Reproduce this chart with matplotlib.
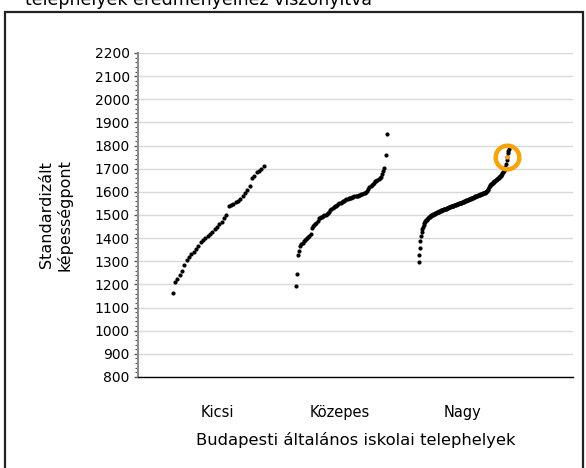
import numpy as np
import matplotlib
matplotlib.use('Agg')
import matplotlib.pyplot as plt
from matplotlib.patches import Rectangle
from matplotlib.ticker import MultipleLocator

plt.rcParams['font.family'] = ['DejaVu Sans']

TITLE = 'telephelyek eredményeihez viszonyítva'
CATEGORIES = ['Kicsi', 'Közepes', 'Nagy']
X_LABEL = 'Budapesti általános iskolai telephelyek'
Y_LABEL = 'Standardizált\nképességpont'

# sorted scores per school-size group
kicsi = [1165, 1212, 1222, 1240, 1258, 1283, 1305, 1318, 1330, 1342,
         1351, 1366, 1382, 1392, 1400, 1409, 1418, 1428, 1438, 1448,
         1460, 1471, 1486, 1500, 1538, 1545, 1549, 1556, 1561, 1570,
         1581, 1596, 1610, 1624, 1660, 1670, 1686, 1692, 1700, 1710]

kozepes = [1192, 1245, 1328, 1343, 1365, 1374, 1380, 1386, 1390, 1395,
           1400, 1405, 1411, 1418, 1445, 1452, 1456, 1460, 1466, 1476,
           1486, 1489, 1491, 1493, 1496, 1499, 1502, 1505, 1507, 1511,
           1520, 1528, 1532, 1536, 1539, 1541, 1544, 1548, 1551, 1554,
           1557, 1560, 1562, 1565, 1568, 1570, 1572, 1573, 1575, 1576,
           1578, 1580, 1581, 1583, 1584, 1586, 1588, 1590, 1592, 1594,
           1596, 1599, 1604, 1612, 1620, 1625, 1630, 1635, 1640, 1645,
           1648, 1652, 1655, 1658, 1665, 1679, 1690, 1705, 1758, 1851]

nagy = [1295, 1328, 1357, 1388, 1410, 1428, 1440, 1450, 1458, 1464,
        1469, 1473, 1477, 1480, 1483, 1486, 1488, 1491, 1493, 1495,
        1497, 1499, 1500, 1502, 1503, 1505, 1506, 1508, 1509, 1510,
        1512, 1513, 1514, 1515, 1516, 1517, 1518, 1520, 1521, 1522,
        1523, 1524, 1525, 1526, 1527, 1528, 1530, 1531, 1532, 1533,
        1534, 1535, 1536, 1537, 1538, 1539, 1540, 1541, 1542, 1543,
        1544, 1545, 1546, 1547, 1548, 1549, 1550, 1551, 1552, 1553,
        1554, 1555, 1556, 1557, 1558, 1560, 1561, 1562, 1563, 1564,
        1565, 1566, 1567, 1568, 1570, 1571, 1572, 1573, 1574, 1575,
        1576, 1578, 1579, 1580, 1581, 1582, 1583, 1585, 1586, 1587,
        1588, 1589, 1590, 1591, 1592, 1593, 1594, 1595, 1596, 1598,
        1599, 1601, 1604, 1608, 1614, 1620, 1626, 1629, 1632, 1634,
        1636, 1638, 1641, 1643, 1645, 1647, 1650, 1652, 1654, 1657,
        1659, 1661, 1664, 1667, 1670, 1674, 1678, 1682, 1686, 1690,
        1694, 1700, 1708, 1722, 1736, 1752, 1768, 1778, 1787, 1796]

HIGHLIGHT_GROUP = 2
HIGHLIGHT_INDEX = 145

groups = [kicsi, kozepes, nagy]
ORANGE = '#F7A30A'

fig = plt.figure(figsize=(5.86, 4.68), dpi=100)
ax = fig.add_axes([138 / 586, 1 - 377 / 468, 435 / 586, 324 / 468])

for g, vals in enumerate(groups):
    n = len(vals)
    xs = g + 1 - 0.36 + 0.74 * np.arange(n) / (n - 1)
    ax.scatter(xs, vals, s=9, color='black', linewidths=0, zorder=3)
    if g == HIGHLIGHT_GROUP:
        hx, hy = xs[HIGHLIGHT_INDEX], vals[HIGHLIGHT_INDEX]
        ax.plot([hx], [hy], 'o', ms=3, color=ORANGE, mew=0, zorder=4)
        ax.plot([hx], [hy], 'o', ms=17, mfc='none', mec=ORANGE, mew=3.2,
                zorder=5, clip_on=False)

ax.set_xlim(0.358, 3.895)
ax.set_ylim(800, 2200)
ax.yaxis.set_major_locator(MultipleLocator(100))
ax.yaxis.set_minor_locator(MultipleLocator(20))
ax.grid(axis='y', which='major', color='#d9d9d9', lw=1)
ax.set_axisbelow(True)

ax.set_xticks([1, 2, 3])
ax.set_xticklabels(CATEGORIES, fontsize=10.5)
ax.tick_params(axis='x', length=0, pad=20)
ax.tick_params(axis='y', which='major', length=3, width=1, color='#555555',
               labelsize=10, pad=3)
ax.tick_params(axis='y', which='minor', length=2, width=0.8, color='#555555')

for s in ['top', 'right']:
    ax.spines[s].set_visible(False)
ax.spines['left'].set_color('#8c8c8c')
ax.spines['left'].set_linewidth(1.5)
ax.spines['bottom'].set_color('black')
ax.spines['bottom'].set_linewidth(1)

ax.set_xlabel(X_LABEL, fontsize=11.8, labelpad=9)
ax.set_ylabel(Y_LABEL, fontsize=11.5, labelpad=16, linespacing=1.15)

fig.text(25 / 586, 1 - 5 / 468, TITLE, fontsize=12.5, va='baseline', ha='left')

frame = Rectangle((4.5 / 586, -0.1), 578.5 / 586, 1.1 - 12 / 468,
                  transform=fig.transFigure, fill=False, ec='#222222', lw=1.6,
                  clip_on=False)
fig.patches.append(frame)

fig.savefig('out.png', dpi=100)
